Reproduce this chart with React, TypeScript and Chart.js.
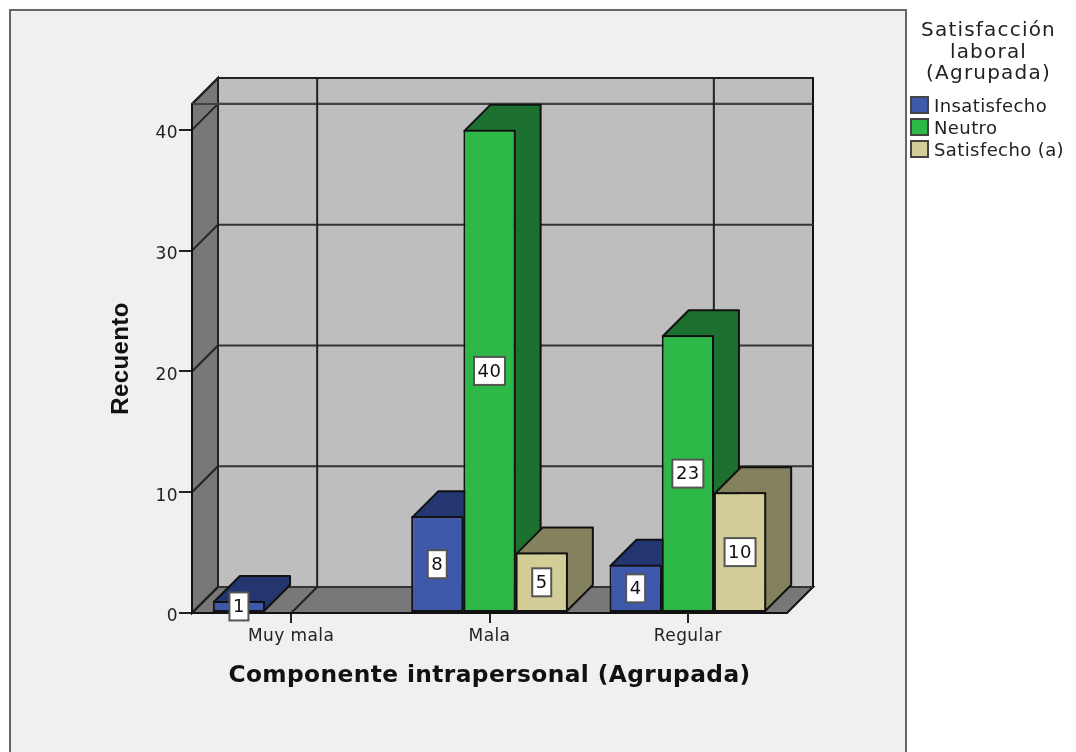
import React, { useEffect, useRef } from "react";
import { Chart, registerables } from "chart.js";

Chart.register(...registerables);

const categories = ["Muy mala", "Mala", "Regular"];
const seriesNames = ["Insatisfecho", "Neutro", "Satisfecho (a)"];
const insatisfecho = [1, 8, 4];
const neutro = [null, 40, 23];
const satisfecho = [null, 5, 10];
const frontColors = ["#3e58ac", "#2eb848", "#d3ce97"];
const sideColors = ["#233670", "#1c7030", "#84815f"];
const legendTitle = ["Satisfacción", "laboral", "(Agrupada)"];
const axisMax = 42.14;
const depth = 26;
const backGridCategories = [0, 2];

const SANS = "'DejaVu Sans'";

const scene3d = {
  id: "scene3d",
  beforeDraw(chart: any) {
    const { ctx, width, height } = chart;
    ctx.save();
    ctx.fillStyle = "#ffffff";
    ctx.fillRect(0, 0, width, height);
    ctx.fillStyle = "#f0f0f0";
    ctx.strokeStyle = "#666666";
    ctx.lineWidth = 2;
    ctx.fillRect(10, 10, 896, height);
    ctx.strokeRect(10, 10, 896, height + 10);
    ctx.restore();
    ctx.letterSpacing = "0.4px";
  },
  beforeDatasetsDraw(chart: any) {
    const { ctx } = chart;
    const { x, y } = chart.scales;
    const L = x.left, R = x.right, T = y.top, B = y.bottom;
    const poly = (pts: number[][], fill: string | null, stroke = "#111111") => {
      ctx.beginPath();
      pts.forEach((p, i) => (i ? ctx.lineTo(p[0], p[1]) : ctx.moveTo(p[0], p[1])));
      ctx.closePath();
      if (fill) {
        ctx.fillStyle = fill;
        ctx.fill();
      }
      ctx.strokeStyle = stroke;
      ctx.stroke();
    };
    const seg = (a: number, b: number, c: number, d: number, col = "#222222") => {
      ctx.beginPath();
      ctx.moveTo(a, b);
      ctx.lineTo(c, d);
      ctx.strokeStyle = col;
      ctx.stroke();
    };
    ctx.save();
    ctx.lineWidth = 2;
    poly([[L + depth, T - depth], [R + depth, T - depth], [R + depth, B - depth], [L + depth, B - depth]], "#bebebe");
    poly([[L, T], [L + depth, T - depth], [L + depth, B - depth], [L, B]], "#787878");
    poly([[L, B], [L + depth, B - depth], [R + depth, B - depth], [R, B]], "#787878");
    y.ticks.forEach((t: any) => {
      const py = y.getPixelForValue(t.value);
      seg(L, py, L + depth, py - depth);
      seg(L + depth, py - depth, R + depth, py - depth, "#333333");
    });
    seg(L + depth, T - depth, R + depth, T - depth);
    seg(L, T, L + depth, T - depth);
    seg(L + depth, T - depth, L + depth, B - depth);
    seg(L, T, L + depth, T, "#444444");
    seg(L + depth, T, R + depth, T, "#444444");
    backGridCategories.forEach((i) => {
      const px = x.getPixelForValue(i);
      seg(px + depth, T - depth, px + depth, B - depth);
      seg(px, B, px + depth, B - depth);
    });
    seg(L, T, L, B, "#111111");
    seg(L, B, R, B, "#111111");
    ctx.restore();
  },
  beforeDatasetDraw() {
    // The bars are painted below, left to right, so that each bar's 3D faces overlap properly.
    return false;
  },
  afterDatasetsDraw(chart: any) {
    const { ctx } = chart;
    chart.data.datasets.forEach((ds: any, i: number) => {
      const meta = chart.getDatasetMeta(i);
      ctx.save();
      ctx.lineWidth = 2;
      ctx.strokeStyle = "#111111";
      ctx.lineJoin = "round";
      ctx.fillStyle = sideColors[i];
      meta.data.forEach((bar: any, k: number) => {
        if (ds.data[k] == null) return;
        const p = bar.getProps(["x", "y", "base", "width"], true);
        const x0 = p.x - p.width / 2, x1 = p.x + p.width / 2;
        ctx.beginPath();
        ctx.moveTo(x0 + 1, p.y + 1);
        ctx.lineTo(x0 + 1 + depth, p.y + 1 - depth);
        ctx.lineTo(x1 - 1 + depth, p.y + 1 - depth);
        ctx.lineTo(x1 - 1 + depth, p.base - 1 - depth);
        ctx.lineTo(x1 - 1, p.base - 1);
        ctx.lineTo(x1 - 1, p.y + 1);
        ctx.closePath();
        ctx.fill();
        ctx.stroke();
      });
      ctx.restore();
      meta.data.forEach((bar: any, k: number) => {
        if (ds.data[k] != null) bar.draw(ctx);
      });
    });
    ctx.save();
    ctx.font = `18px ${SANS}`;
    ctx.letterSpacing = "0.5px";
    ctx.textAlign = "center";
    ctx.textBaseline = "middle";
    chart.data.datasets.forEach((ds: any, i: number) => {
      const meta = chart.getDatasetMeta(i);
      meta.data.forEach((bar: any, k: number) => {
        const v = ds.data[k];
        if (v == null) return;
        const p = bar.getProps(["x", "y", "base"], true);
        const text = String(v);
        const w = text.length > 1 ? 31 : 19;
        const h = 28;
        const cy = (p.y + p.base) / 2;
        ctx.fillStyle = "#ffffff";
        ctx.strokeStyle = "#555555";
        ctx.lineWidth = 2;
        ctx.fillRect(p.x - w / 2, cy - h / 2, w, h);
        ctx.strokeRect(p.x - w / 2, cy - h / 2, w, h);
        ctx.fillStyle = "#111111";
        ctx.fillText(text, p.x, cy + 1);
      });
    });
    ctx.restore();
  },
  afterDraw(chart: any) {
    const { ctx } = chart;
    ctx.save();
    ctx.textBaseline = "middle";
    ctx.fillStyle = "#222222";
    ctx.textAlign = "center";
    ctx.font = `20px ${SANS}`;
    ctx.letterSpacing = "1.2px";
    legendTitle.forEach((line, i) => ctx.fillText(line, 988.5, 31 + i * 21.5));
    ctx.textAlign = "left";
    ctx.font = `18px ${SANS}`;
    ctx.letterSpacing = "0.4px";
    const rowY = [105, 127, 149];
    seriesNames.forEach((name, i) => {
      ctx.fillStyle = frontColors[i];
      ctx.strokeStyle = "#444444";
      ctx.lineWidth = 2;
      ctx.fillRect(911, rowY[i] - 8, 17, 16);
      ctx.strokeRect(911, rowY[i] - 8, 17, 16);
      ctx.fillStyle = "#222222";
      ctx.fillText(name, 934, rowY[i] + 2);
    });
    ctx.restore();
  },
};

export default function App() {
  const ref = useRef<HTMLCanvasElement>(null);
  useEffect(() => {
    const chart = new Chart(ref.current as HTMLCanvasElement, {
      type: "bar",
      data: {
        labels: categories,
        datasets: [insatisfecho, neutro, satisfecho].map((data, i) => ({
          label: seriesNames[i],
          data,
          backgroundColor: frontColors[i],
          borderColor: "#111111",
          borderWidth: 2,
          borderSkipped: false,
          categoryPercentage: 0.79,
          barPercentage: 1,
        })),
      } as any,
      options: {
        responsive: false,
        animation: false,
        events: [],
        layout: { padding: { left: 100, right: 289, top: 104, bottom: 0 } },
        plugins: { legend: { display: false }, tooltip: { enabled: false }, title: { display: false } },
        scales: {
          x: {
            grid: { offset: false, drawOnChartArea: false, drawTicks: true, tickLength: 10, color: "#222222", lineWidth: 2 },
            border: { display: false },
            ticks: { autoSkip: false, maxRotation: 0, padding: 3, color: "#222222", font: { family: "DejaVu Sans", size: 17 } },
            title: {
              display: true,
              text: "Componente intrapersonal (Agrupada)",
              color: "#111111",
              font: { family: "DejaVu Sans", size: 23.3, weight: "bold" },
              padding: { top: 0, bottom: 62 },
            },
            afterFit: (s: any) => { s.height = 139; },
          },
          y: {
            min: 0,
            max: axisMax,
            grid: { drawOnChartArea: false, drawTicks: true, tickLength: 13, color: "#222222", lineWidth: 2 },
            border: { display: false },
            ticks: { stepSize: 10, includeBounds: false, padding: 1, labelOffset: 4, color: "#222222", font: { family: "DejaVu Sans", size: 17 } },
            title: {
              display: true,
              text: "Recuento",
              color: "#111111",
              font: { family: "Liberation Sans", size: 24, weight: "bold" },
              padding: { top: 7, bottom: 0 },
            },
            afterFit: (s: any) => { s.width = 92; },
          },
        },
      },
      plugins: [scene3d],
    } as any);
    return () => chart.destroy();
  }, []);
  return (
    <canvas
      ref={ref}
      width={1076}
      height={752}
      style={{ position: "absolute", left: 0, top: 0, width: 1076, height: 752, display: "block" }}
    />
  );
}
